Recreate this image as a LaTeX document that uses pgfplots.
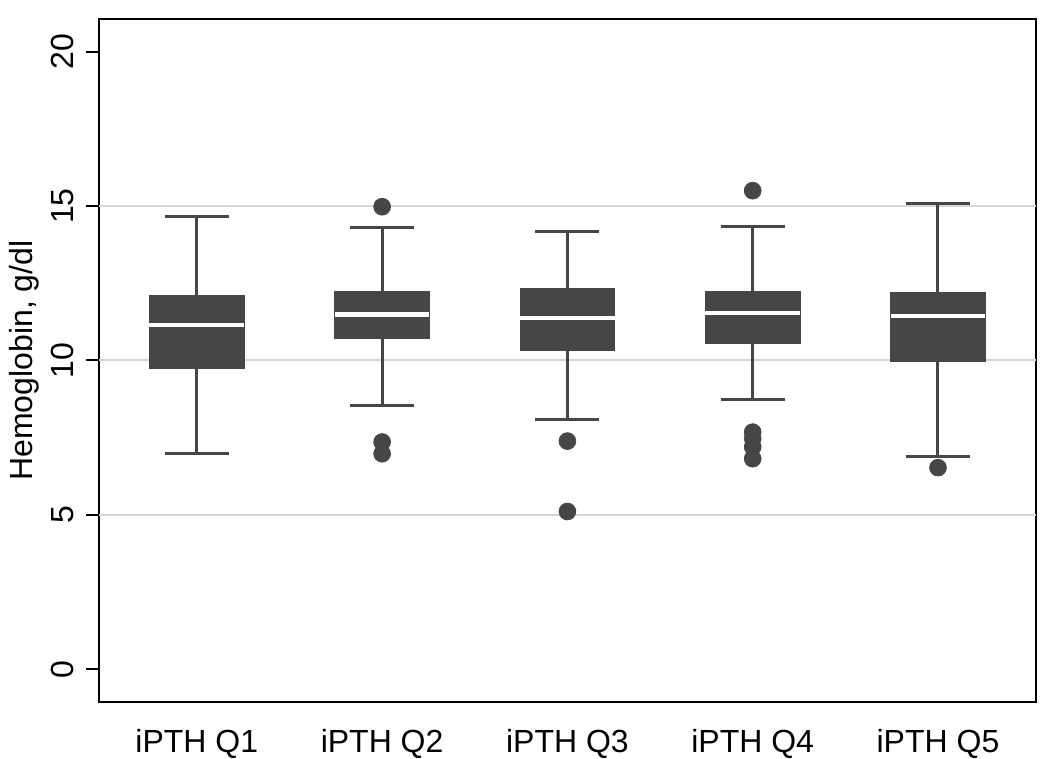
\documentclass[border=0pt]{standalone}
\usepackage{fontspec}
\setmainfont{Liberation Sans}
\usepackage{pgfplots}
\pgfplotsset{compat=1.18}
\usepgfplotslibrary{statistics}
\definecolor{boxc}{HTML}{464646}
\definecolor{gridc}{HTML}{D6D6D6}
\pgfplotsset{
  hbox/.style={boxc, solid, mark=*, mark size=4.2pt, mark options={fill=boxc, draw=boxc}},
}
\begin{document}
\begin{tikzpicture}
\begin{axis}[
  at={(49.5pt,28.65pt)}, anchor=south west,
  scale only axis, width=468.5pt, height=341.2pt,
  xmin=0.472, xmax=5.529, ymin=-1.05, ymax=21.05,
  axis line style={black, line width=1pt},
  tick align=outside,
  xtick={1,2,3,4,5},
  xticklabels={iPTH Q1,iPTH Q2,iPTH Q3,iPTH Q4,iPTH Q5},
  x tick style={draw=none},
  ytick pos=left,
  major tick length=6.5pt,
  y tick style={black, line width=1pt},
  ytick={0,5,10,15,20},
  yticklabels={0,5,10,15,20},
  extra y ticks={5,10,15},
  extra y tick labels={},
  extra y tick style={grid=major, major tick length=0pt},
  grid style={gridc, line width=1pt},
  tick label style={font=\fontsize{16}{19}\selectfont},
  yticklabel style={rotate=90, anchor=south},
  yticklabel shift=2.5pt,
  xticklabel style={yshift=-4pt},
  ylabel={Hemoglobin, g/dl},
  every axis y label/.style={at={(axis description cs:-0.0793,0.5)}, rotate=90, anchor=center, font=\fontsize{16}{19}\selectfont},
  boxplot/draw direction=y,
  boxplot/box extend=0.511,
  boxplot/whisker extend=0.345,
  boxplot/every box/.style={draw=boxc, fill=boxc, line width=0.5pt},
  boxplot/every whisker/.style={boxc, line width=1.5pt},
  boxplot/every median/.style={white, line width=2.2pt},
]
\addplot+[hbox,
  boxplot prepared={draw position=1, median=11.15, upper quartile=12.10, lower quartile=9.75, upper whisker=14.66, lower whisker=6.98}]
  coordinates {};
\addplot+[hbox,
  boxplot prepared={draw position=2, median=11.49, upper quartile=12.24, lower quartile=10.71, upper whisker=14.30, lower whisker=8.54}]
  coordinates {(0,14.98) (0,7.36) (0,6.98)};
\addplot+[hbox,
  boxplot prepared={draw position=3, median=11.38, upper quartile=12.32, lower quartile=10.32, upper whisker=14.17, lower whisker=8.09}]
  coordinates {(0,7.39) (0,5.11)};
\addplot+[hbox,
  boxplot prepared={draw position=4, median=11.54, upper quartile=12.24, lower quartile=10.55, upper whisker=14.35, lower whisker=8.73}]
  coordinates {(0,15.50) (0,7.68) (0,7.48) (0,7.20) (0,6.82)};
\addplot+[hbox,
  boxplot prepared={draw position=5, median=11.44, upper quartile=12.19, lower quartile=9.97, upper whisker=15.09, lower whisker=6.90}]
  coordinates {(0,6.53)};
\end{axis}
\pgfresetboundingbox
\path[use as bounding box] (0,0) rectangle (525pt,379.5pt);
\end{tikzpicture}
\end{document}
